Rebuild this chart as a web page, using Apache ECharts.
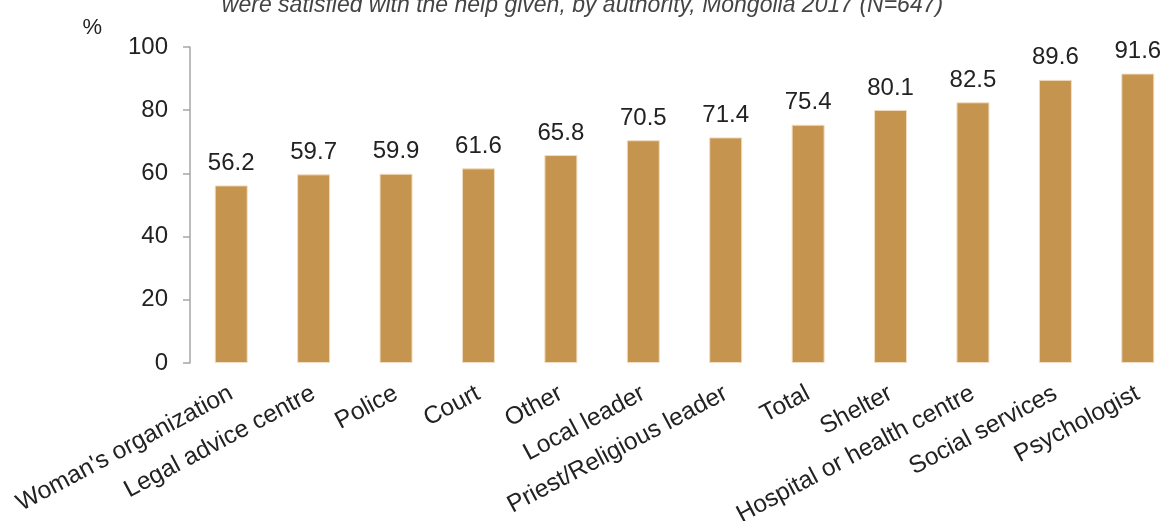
<!DOCTYPE html>
<html>
<head>
<meta charset="utf-8">
<script src="https://cdn.jsdelivr.net/npm/echarts@6/dist/echarts.min.js"></script>
<style>html,body{margin:0;padding:0;background:#fff}#c{width:1165px;height:521px}</style>
</head>
<body>
<div id="c"></div>
<script>
const titleText = 'were satisfied with the help given, by authority, Mongolia 2017 (N=647)';
const categories = ['Woman\'s organization','Legal advice centre','Police','Court','Other','Local leader','Priest/Religious leader','Total','Shelter','Hospital or health centre','Social services','Psychologist'];
const values = [56.2, 59.7, 59.9, 61.6, 65.8, 70.5, 71.4, 75.4, 80.1, 82.5, 89.6, 91.6];
const yTicks = [0, 20, 40, 60, 80, 100];

const chart = echarts.init(document.getElementById('c'), null, {renderer: 'canvas'});
chart.setOption({
  animation: false,
  title: {
    text: titleText, left: 'center', top: -11,
    textStyle: { fontFamily: '"Liberation Sans Narrow", "Liberation Sans", Arial, sans-serif', fontStyle: 'italic', fontWeight: 'normal', fontSize: 23, color: '#444' }
  },
  grid: { left: 190, right: -14, top: 47, bottom: 158, containLabel: false, outerBoundsMode: 'none' },
  xAxis: {
    type: 'category', data: categories,
    axisLine: { show: false }, axisTick: { show: false },
    axisLabel: { interval: 0, rotate: 28, margin: 29, fontFamily: '"Liberation Sans", Arial, sans-serif', fontSize: 24.5, color: '#222' }
  },
  yAxis: {
    type: 'value', min: 0, max: 100, interval: 20,
    name: '%', nameLocation: 'end', nameGap: 8,
    nameTextStyle: { fontFamily: '"Liberation Sans", Arial, sans-serif', fontSize: 22, color: '#222', align: 'right', padding: [0, 88, 0, 0] },
    axisLine: { show: true, lineStyle: { color: '#a6a6a6', width: 1.5 } },
    axisTick: { show: true, length: 7, lineStyle: { color: '#a6a6a6', width: 1.5 } },
    splitLine: { show: false },
    axisLabel: { margin: 22, fontFamily: '"Liberation Sans", Arial, sans-serif', fontSize: 24, color: '#222',
      formatter: v => yTicks.includes(v) ? String(v) : '' }
  },
  series: [{
    type: 'bar', data: values, barWidth: 33,
    itemStyle: { color: '#c5944f', borderColor: '#f2ddc0', borderWidth: 1 },
    label: { show: true, position: 'top', distance: 10, fontFamily: '"Liberation Sans", Arial, sans-serif', fontSize: 24, color: '#222',
      formatter: p => p.value.toFixed(1) }
  }]
});
</script>
</body>
</html>
